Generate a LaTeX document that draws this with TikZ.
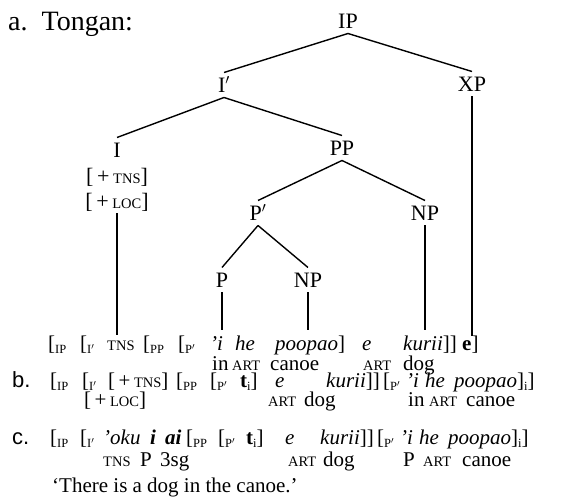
\documentclass[tikz,border=0pt]{standalone}
\usepackage{fontspec}
\setmainfont{Liberation Serif}
\newfontfamily\labfont{Liberation Sans}
\newcommand\mysc[1]{{\fontsize{14.5}{15}\selectfont #1}}
\newcommand\subl[1]{\raisebox{-3pt}{\fontsize{12.5}{13}\selectfont #1}}
\tikzset{
  tl/.style={font=\fontsize{22}{24}\selectfont, inner sep=0pt, outer sep=5pt, text height=15pt, text depth=0pt},
  w/.style={font=\fontsize{21}{22}\selectfont, inner sep=0pt, anchor=base west},
  br/.style={line width=1.4pt}
}
\begin{document}
\begin{tikzpicture}[x=1pt,y=-1pt]
\useasboundingbox (0,0) rectangle (574,502);
% heading
\node[font=\fontsize{28}{30}\selectfont, inner sep=0pt, anchor=base west] (head) at (8,31) {a.\ \ Tongan:};
% tree nodes
\node[tl] (IP) at (348,21) {IP};
\node[tl] (Ib) at (224,85) {I$'$};
\node[tl] (XP) at (472,84) {XP};
\node[tl] (I) at (117,150) {I};
\node[tl] (tns) at (117,176) {[\,+\,\mysc{TNS}]};
\node[tl] (loc) at (117,201) {[\,+\,\mysc{LOC}]};
\node[tl] (PP) at (342,148) {PP};
\node[tl] (Pb) at (258,213) {P$'$};
\node[tl] (NPr) at (425,213) {NP};
\node[tl] (P) at (222,280) {P};
\node[tl] (NPl) at (308,280) {NP};
\coordinate (endI) at (117,335);
\coordinate (endP) at (222,330);
\coordinate (endNPl) at (308,330);
\coordinate (endNPr) at (425,330);
\coordinate (endXP) at (472,336);
% connectors
\draw[br] (IP.south) -- (Ib.north);
\draw[br] (IP.south) -- (XP.north);
\draw[br] (Ib.south) -- (I.north);
\draw[br] (Ib.south) -- (PP.north);
\draw[br] (PP.south) -- (Pb.north);
\draw[br] (PP.south) -- (NPr.north);
\draw[br] (Pb.south) -- (P.north);
\draw[br] (Pb.south) -- (NPl.north);
\draw[br] (loc.south) -- (endI);
\draw[br] (P.south) -- (endP);
\draw[br] (NPl.south) -- (endNPl);
\draw[br] (NPr.south) -- (endNPr);
\draw[br] (XP.south) -- (endXP);
% row a
\node[w] (a1) at (48,351) {[\subl{IP}};
\node[w] (a2) at (80,351) {[\subl{I$'$}};
\node[w] (a3) at (107,351) {\mysc{TNS}};
\node[w] (a4) at (143,351) {[\subl{PP}};
\node[w] (a5) at (178,351) {[\subl{P$'$}};
\node[w] (a6) at (210,351) {\textit{'i}};
\node[w] (a7) at (235,351) {\textit{he}};
\node[w] (a8) at (275,351) {\textit{poopao}]};
\node[w] (a9) at (362,351) {\textit{e}};
\node[w] (a10) at (403,351) {\textit{kurii}]]};
\node[w] (a11) at (462,351) {\textbf{e}]};
\node[w] (ga1) at (212,371) {in};
\node[w] (ga2) at (232,371) {\mysc{ART}};
\node[w] (ga3) at (270,371) {canoe};
\node[w] (ga4) at (363,371) {\mysc{ART}};
\node[w] (ga5) at (403,371) {dog};
% row b
\node[w, font=\fontsize{22}{22}\labfont] (bl) at (12,388) {b.};
\node[w] (b1) at (50,388) {[\subl{IP}};
\node[w] (b2) at (82,388) {[\subl{I$'$}};
\node[w] (b3) at (108,388) {[\,+\,\mysc{TNS}]};
\node[w] (b4) at (176,388) {[\subl{PP}};
\node[w] (b5) at (210,388) {[\subl{P$'$}};
\node[w] (b6) at (240,388) {\textbf{t}\subl{i}]};
\node[w] (b7) at (275,388) {\textit{e}};
\node[w] (b8) at (326,388) {\textit{kurii}]]};
\node[w] (b9) at (383,388) {[\subl{P$'$}};
\node[w] (b10) at (406,388) {\textit{'i}};
\node[w] (b11) at (425,388) {\textit{he}};
\node[w] (b12) at (454,388) {\textit{poopao}]\subl{i}]};
\node[w] (gb1) at (84,407) {[\,+\,\mysc{LOC}]};
\node[w] (gb2) at (268,407) {\mysc{ART}};
\node[w] (gb3) at (304,407) {dog};
\node[w] (gb4) at (408,407) {in};
\node[w] (gb5) at (429,407) {\mysc{ART}};
\node[w] (gb6) at (466,407) {canoe};
% row c
\node[w, font=\fontsize{22}{22}\labfont] (cl) at (12,445) {c.};
\node[w] (c1) at (50,445) {[\subl{IP}};
\node[w] (c2) at (80,445) {[\subl{I$'$}};
\node[w] (c3) at (103,445) {\textit{'oku}};
\node[w] (c4) at (150,445) {\textbf{\textit{i}}};
\node[w] (c5) at (165,445) {\textbf{\textit{ai}}};
\node[w] (c6) at (186,445) {[\subl{PP}};
\node[w] (c7) at (218,445) {[\subl{P$'$}};
\node[w] (c8) at (246,445) {\textbf{t}\subl{i}]};
\node[w] (c9) at (285,445) {\textit{e}};
\node[w] (c10) at (320,445) {\textit{kurii}]]};
\node[w] (c11) at (377,445) {[\subl{P$'$}};
\node[w] (c12) at (400,445) {\textit{'i}};
\node[w] (c13) at (419,445) {\textit{he}};
\node[w] (c14) at (448,445) {\textit{poopao}]\subl{i}]};
\node[w] (gc1) at (103,467) {\mysc{TNS}};
\node[w] (gc2) at (140,467) {P};
\node[w] (gc3) at (160,467) {3sg};
\node[w] (gc4) at (288,467) {\mysc{ART}};
\node[w] (gc5) at (323,467) {dog};
\node[w] (gc6) at (403,467) {P};
\node[w] (gc7) at (423,467) {\mysc{ART}};
\node[w] (gc8) at (462,467) {canoe};
\node[w] (tr) at (52,493) {`There is a dog in the canoe.'};
\end{tikzpicture}
\end{document}
